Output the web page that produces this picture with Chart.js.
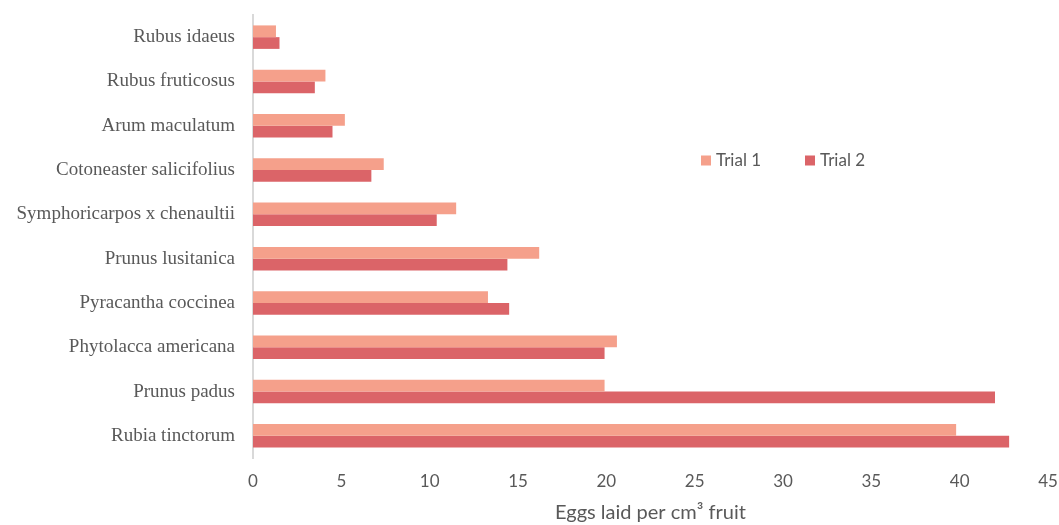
<!DOCTYPE html>
<html>
<head>
<meta charset="utf-8">
<script src="https://cdn.jsdelivr.net/npm/chart.js@4/dist/chart.umd.min.js"></script>
<style>
  html, body { margin: 0; padding: 0; background: #fff; }
  #wrap { width: 1059px; height: 525px; position: relative; }
</style>
</head>
<body>
<div id="wrap"><canvas id="c"></canvas></div>
<script>
// Fruit species (top to bottom)
const species = [
  'Rubus idaeus',
  'Rubus fruticosus',
  'Arum maculatum',
  'Cotoneaster salicifolius',
  'Symphoricarpos x chenaultii',
  'Prunus lusitanica',
  'Pyracantha coccinea',
  'Phytolacca americana',
  'Prunus padus',
  'Rubia tinctorum'
];
// Eggs laid per cm³ fruit
const trial1 = [1.3, 4.1, 5.2, 7.4, 11.5, 16.2, 13.3, 20.6, 19.9, 39.8];
const trial2 = [1.5, 3.5, 4.5, 6.7, 10.4, 14.4, 14.5, 19.9, 42.0, 42.8];
const seriesNames = ['Trial 1', 'Trial 2'];
const xTicks = [0, 5, 10, 15, 20, 25, 30, 35, 40, 45];
const xTitle = 'Eggs laid per cm\u00B3 fruit';

const colors = ['#F5A08B', '#DB6468'];
const grey = '#595959';

// Legend drawn inside the plot area, to the right of the short bars
const floatingLegend = {
  id: 'floatingLegend',
  afterDraw(chart) {
    const ctx = chart.ctx;
    const xs = [701, 805];
    const y = 160.5;
    ctx.save();
    ctx.font = '17px "Lato", "Open Sans", sans-serif';
    ctx.textBaseline = 'middle';
    chart.data.datasets.forEach((ds, i) => {
      ctx.fillStyle = ds.backgroundColor;
      ctx.fillRect(xs[i], y - 5, 10, 10);
      ctx.fillStyle = grey;
      ctx.fillText(ds.label, xs[i] + 15, y);
    });
    ctx.restore();
  }
};

new Chart(document.getElementById('c'), {
  type: 'bar',
  data: {
    labels: species,
    datasets: [
      { label: seriesNames[0], data: trial1, backgroundColor: colors[0] },
      { label: seriesNames[1], data: trial2, backgroundColor: colors[1] }
    ]
  },
  options: {
    indexAxis: 'y',
    responsive: true,
    maintainAspectRatio: false,
    animation: false,
    layout: { padding: { top: 15, right: 11, left: 0, bottom: 0 } },
    datasets: { bar: { barPercentage: 1.0, categoryPercentage: 0.53 } },
    plugins: {
      legend: { display: false },
      tooltip: { enabled: false }
    },
    scales: {
      x: {
        min: 0,
        max: 45,
        afterBuildTicks(scale) { scale.ticks = xTicks.map(v => ({ value: v })); },
        afterFit(scale) {
          scale.height = 67;
          scale.paddingLeft = 0;
          scale.paddingRight = 0;
        },
        grid: { display: false, drawTicks: false },
        border: { display: false },
        ticks: {
          color: grey,
          font: { family: '"Lato", "Open Sans", sans-serif', size: 17 },
          padding: 13,
          maxRotation: 0
        },
        title: {
          display: true,
          text: xTitle,
          color: grey,
          font: { family: '"Lato", "Open Sans", sans-serif', size: 20 },
          padding: { top: 4, bottom: 0 }
        }
      },
      y: {
        afterFit(scale) {
          scale.width = 253;
          scale.paddingTop = 0;
          scale.paddingBottom = 0;
        },
        grid: { display: false, drawTicks: false },
        border: { display: true, color: '#D9D9D9', width: 2 },
        ticks: {
          color: grey,
          font: { family: '"Liberation Serif", serif', size: 19 },
          padding: 18
        }
      }
    }
  },
  plugins: [floatingLegend]
});
</script>
</body>
</html>
